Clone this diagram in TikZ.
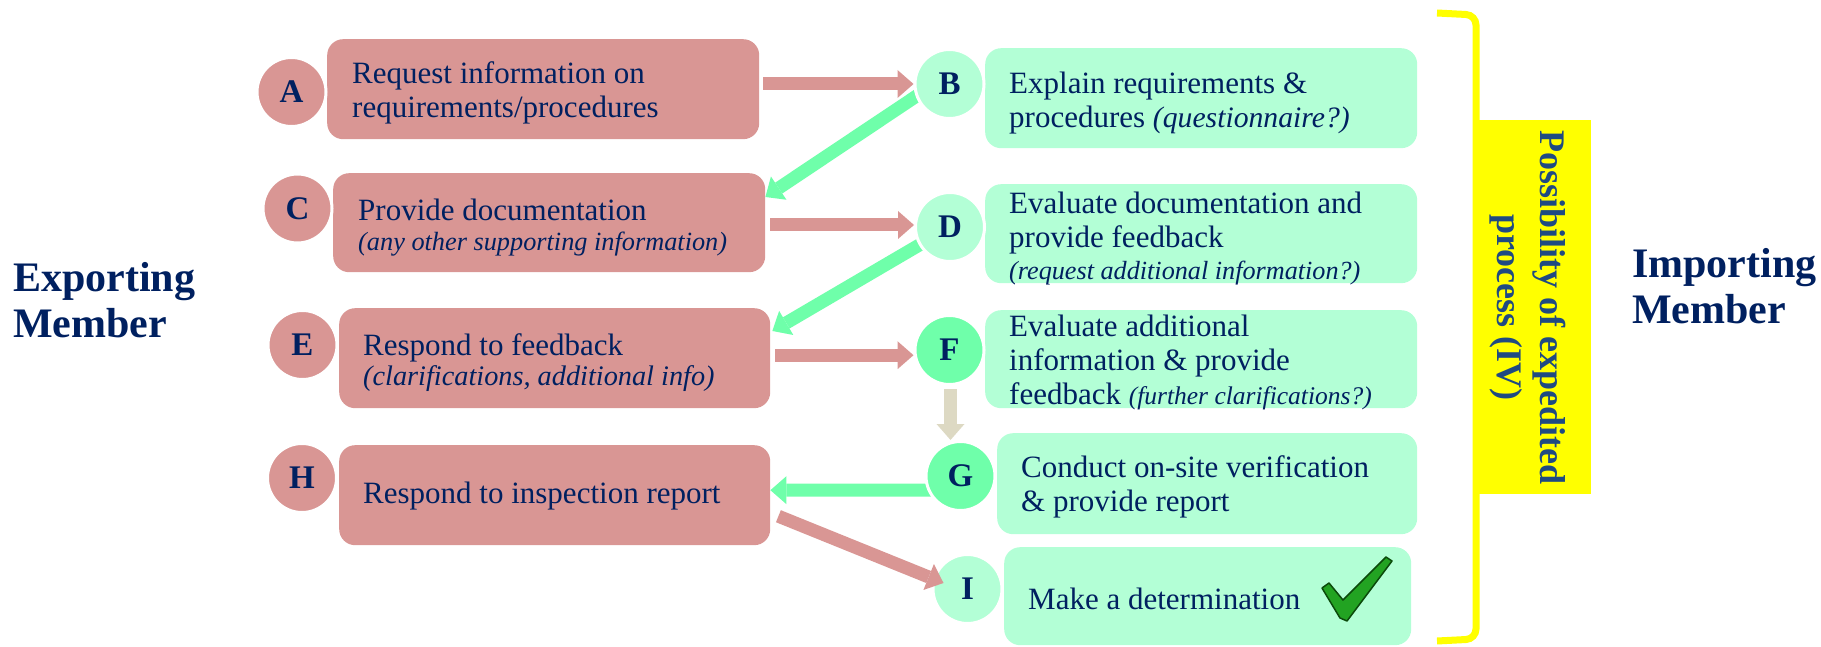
\documentclass[tikz,border=0pt]{standalone}
\usepackage{fontspec}
\setmainfont{Liberation Serif}
\usetikzlibrary{arrows.meta,calc}
\definecolor{navy}{HTML}{002060}
\definecolor{pinkbox}{HTML}{D99694}
\definecolor{greenbox}{HTML}{B3FFD6}
\definecolor{greenhi}{HTML}{6FFFAA}
\definecolor{beigearr}{HTML}{DDD9C3}
\definecolor{ybox}{HTML}{FFFF00}
\definecolor{ytext}{HTML}{1F4A82}
\definecolor{checkg}{HTML}{22A322}
\definecolor{checkd}{HTML}{0B4A0B}
\newcommand\mainfs{\fontsize{31}{34}\selectfont}
\newcommand\circfs{\fontsize{33}{36}\selectfont\bfseries}
\newcommand\itsz[1]{\fontsize{#1}{30}\selectfont\itshape}
\begin{document}
\begin{tikzpicture}[x=1pt,y=-1pt,
  boxbase/.style={rounded corners=16pt, inner sep=0pt, anchor=north west},
  pbox/.style={boxbase, fill=pinkbox},
  gbox/.style={boxbase, fill=greenbox},
  txt/.style={anchor=west, align=left, inner sep=0pt, text=navy, font=\mainfs},
  circ/.style={circle, minimum size=69pt, inner sep=0pt, draw=white,
    line width=3pt, text=navy, font=\circfs},
  pcirc/.style={circ, fill=pinkbox},
  gcirc/.style={circ, fill=greenbox},
  hcirc/.style={circ, fill=greenhi},
  arrbase/.style={line width=13pt,
    -{Triangle[length=16pt,width=28pt,line width=0pt]}},
  pinkarr/.style={arrbase, draw=pinkbox},
  greenarr/.style={arrbase, draw=greenhi},
  beigearrow/.style={arrbase, draw=beigearr},
  member/.style={font=\fontsize{42}{46}\selectfont\bfseries, text=navy,
    align=left, inner sep=0pt, anchor=west},
]
\path[use as bounding box] (0,0) rectangle (1821,647);

% boxes
\node[pbox, minimum width=432pt, minimum height=100pt] (Abox) at (327,39) {};
\node[gbox, minimum width=432pt, minimum height=100pt] (Bbox) at (985,48) {};
\node[pbox, minimum width=432pt, minimum height=99pt]  (Cbox) at (333,173) {};
\node[gbox, minimum width=432pt, minimum height=99pt]  (Dbox) at (985,184) {};
\node[pbox, minimum width=431pt, minimum height=100pt] (Ebox) at (339,308) {};
\node[gbox, minimum width=432pt, minimum height=98pt]  (Fbox) at (985,310) {};
\node[gbox, minimum width=420pt, minimum height=101pt] (Gbox) at (997,433) {};
\node[pbox, minimum width=431pt, minimum height=100pt] (Hbox) at (339,445) {};
\node[gbox, minimum width=407pt, minimum height=98pt]  (Ibox) at (1004,547) {};

% box texts
\node[txt] (At) at ($(Abox.west)+(25,3.5)$) {Request information on\\requirements/procedures};
\node[txt] (Bt) at ($(Bbox.west)+(24,4.6)$) {Explain requirements \&\\procedures {\itsz{29.7}(questionnaire?)}};
\node[txt] (Ct) at ($(Cbox.west)+(25,4.6)$) {Provide documentation\\[-4pt]{\itsz{26.3}(any other supporting information)}};
\node[txt] (Dt) at ($(Dbox.west)+(24,4.6)$) {Evaluate documentation and\\provide feedback\\[-2pt]{\itsz{26.2}(request additional information?)}};
\node[txt] (Et) at ($(Ebox.west)+(24,4.6)$) {Respond to feedback\\[-4pt]{\itsz{28.3}(clarifications, additional info)}};
\node[txt] (Ft) at ($(Fbox.west)+(24,3.5)$) {Evaluate additional\\information \& provide\\feedback {\itsz{25.5}(further clarifications?)}};
\node[txt] (Gt) at ($(Gbox.west)+(24,3.5)$) {Conduct on-site verification\\\& provide report};
\node[txt] (Ht) at ($(Hbox.west)+(24,1.2)$) {Respond to inspection report};
\node[txt] (It) at ($(Ibox.west)+(24,2.3)$) {Make a determination};

% circle positions
\coordinate (Bc) at (949.5,84);
\coordinate (Dc) at (950,227);
\coordinate (Fc) at (949.5,350);
\coordinate (Gc) at (960.5,476);

% arrows under circles
\draw[greenarr] ($(Bc)+(0,-10)$) -- ($(Cbox.north east)+(0,24)$);
\draw[greenarr] (Dc) -- ($(Ebox.north east)+(2,23)$);
\draw[greenarr] ($(Gc)+(0,14)$) -- ($(Hbox.east)+(0,-5)$);

% circles
\node[pcirc] (A) at (291.5,92) {A};
\node[gcirc] (B) at (Bc) {B};
\node[pcirc] (C) at (297.5,208.5) {C};
\node[gcirc] (D) at (Dc) {D};
\node[pcirc] (E) at (302.5,345) {E};
\node[hcirc] (F) at (Fc) {F};
\node[hcirc] (G) at (Gc) {G};
\node[pcirc] (H) at (302,478) {H};
\node[gcirc] (I) at (967.5,589) {I};

% arrows over circles
\draw[pinkarr] ($(Abox.east |- B.west)+(4,0)$) -- (B.west);
\draw[pinkarr] ($(Cbox.east |- D.west)+(5,-2)$) -- ($(D.west)+(0,-2)$);
\draw[pinkarr] ($(Ebox.east)+(5,-3)$) -- ($(F.west |- Ebox.east)+(0,-3)$);
\draw[beigearrow] ($(F.south)+(1,3)$) -- ($(F.south |- G.north)+(1,0)$);
\draw[pinkarr] ($(Hbox.east)+(8,21)$) -- ($(I.center)+(-24,-6)$);

% check mark
\filldraw[fill=checkg, draw=checkd, line width=1.5pt, line join=round]
  (1322,588) -- (1329,583) -- (1343,600) -- (1386,557) -- (1392,561)
  -- (1347,621) -- (1340,618) -- cycle;

% side labels
\node[member] (exp) at (13,300) {Exporting\\Member};
\node[member] (imp) at (1632,286) {Importing\\Member};

% bracket and expedited box
\draw[ybox, line width=7pt, rounded corners=10pt]
  (1437,13) -- (1476,15) -- (1476,639) -- (1437,641);
\node[fill=ybox, minimum width=114pt, minimum height=374pt, inner sep=0pt,
  anchor=north west] (yb) at (1477,120) {};
\node[rotate=-90, align=center, text=ytext, inner sep=0pt,
  font=\fontsize{36}{43}\selectfont\bfseries] (yt) at ($(yb.center)+(-6,0)$)
  {Possibility of expedited\\process (IV)};
\end{tikzpicture}
\end{document}
